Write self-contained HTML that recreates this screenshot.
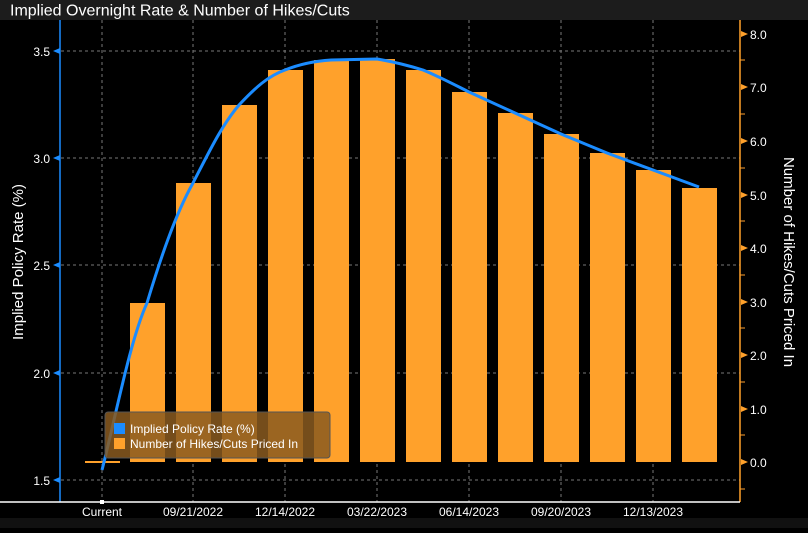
<!DOCTYPE html>
<html><head><meta charset="utf-8"><style>
body{margin:0;background:#000;width:808px;height:528px;overflow:hidden;font-family:"Liberation Sans",sans-serif}
</style></head><body>
<svg width="808" height="528" xmlns="http://www.w3.org/2000/svg" font-family="Liberation Sans, sans-serif">
<rect width="808" height="528" fill="#000"/>
<rect x="0" y="0" width="808" height="20" fill="#1c1c1c"/>
<text x="10" y="15.5" fill="#fff" font-size="16">Implied Overnight Rate &amp; Number of Hikes/Cuts</text>
<rect x="0" y="518" width="808" height="10" fill="#111"/>
<g stroke="#777" stroke-width="1" stroke-dasharray="3,3">
<line x1="61" x2="740" y1="51" y2="51"/><line x1="61" x2="740" y1="158" y2="158"/>
<line x1="61" x2="740" y1="265" y2="265"/><line x1="61" x2="740" y1="373" y2="373"/>
<line x1="61" x2="740" y1="480" y2="480"/>
<line x1="102" x2="102" y1="20" y2="502"/><line x1="193" x2="193" y1="20" y2="502"/>
<line x1="285" x2="285" y1="20" y2="502"/><line x1="377" x2="377" y1="20" y2="502"/>
<line x1="469" x2="469" y1="20" y2="502"/><line x1="561" x2="561" y1="20" y2="502"/>
<line x1="653" x2="653" y1="20" y2="502"/>
</g>
<g fill="#ffa12b">
<rect x="85" y="461" width="35" height="2"/>
<rect x="130" y="303" width="35" height="159"/>
<rect x="176" y="183" width="35" height="279"/>
<rect x="222" y="105" width="35" height="357"/>
<rect x="268" y="70" width="35" height="392"/>
<rect x="314" y="60" width="35" height="402"/>
<rect x="360" y="59" width="35" height="403"/>
<rect x="406" y="70" width="35" height="392"/>
<rect x="452" y="92" width="35" height="370"/>
<rect x="498" y="113" width="35" height="349"/>
<rect x="544" y="134" width="35" height="328"/>
<rect x="590" y="153" width="35" height="309"/>
<rect x="636" y="170" width="35" height="292"/>
<rect x="682" y="188" width="35" height="274"/>
</g>
<path d="M102,470 C115,420 130,340 147,303 C160,260 175,215 193,183 C210,150 222,125 239,105 C255,88 268,76 285,70 C300,64 315,61 331,60 L377,59 C395,62 410,66 423,70 C440,77 455,85 469,92 L515,113 L561,134 L607,153 L653,170 L699,187" fill="none" stroke="#1b8cff" stroke-width="3"/>
<rect x="105" y="412" width="225" height="46" rx="3" fill="#8a5a20" fill-opacity="0.85" stroke="#555"/>
<rect x="114" y="423" width="11" height="11" fill="#1b8cff"/>
<rect x="114" y="438" width="11" height="11" fill="#ffa12b"/>
<text x="130" y="433" fill="#fff" font-size="12">Implied Policy Rate (%)</text>
<text x="130" y="448" fill="#fff" font-size="12">Number of Hikes/Cuts Priced In</text>
<line x1="60" y1="20" x2="60" y2="502" stroke="#1b8cff" stroke-width="1.5"/>
<line x1="740" y1="20" x2="740" y2="502" stroke="#ffa12b" stroke-width="1.5"/>
<line x1="0" y1="502" x2="740" y2="502" stroke="#fff" stroke-width="1.5"/>
<g fill="#1b8cff"><path d="M53,51 l7,-3 v6z"/><path d="M53,158 l7,-3 v6z"/><path d="M53,265 l7,-3 v6z"/><path d="M53,373 l7,-3 v6z"/><path d="M53,480 l7,-3 v6z"/></g>
<g fill="#fff" font-size="12" text-anchor="end"><text x="50" y="56">3.5</text><text x="50" y="163">3.0</text><text x="50" y="270">2.5</text><text x="50" y="378">2.0</text><text x="50" y="485">1.5</text></g>
<g fill="#ffa12b">
<path d="M748,34 l-7,-3 v6z"/><path d="M748,87 l-7,-3 v6z"/><path d="M748,141 l-7,-3 v6z"/><path d="M748,195 l-7,-3 v6z"/><path d="M748,248 l-7,-3 v6z"/><path d="M748,302 l-7,-3 v6z"/><path d="M748,355 l-7,-3 v6z"/><path d="M748,409 l-7,-3 v6z"/><path d="M748,462 l-7,-3 v6z"/>
</g>
<g stroke="#ffa12b"><line x1="740" x2="745" y1="60" y2="60"/><line x1="740" x2="745" y1="114" y2="114"/><line x1="740" x2="745" y1="168" y2="168"/><line x1="740" x2="745" y1="221" y2="221"/><line x1="740" x2="745" y1="275" y2="275"/><line x1="740" x2="745" y1="328" y2="328"/><line x1="740" x2="745" y1="382" y2="382"/><line x1="740" x2="745" y1="435" y2="435"/><line x1="740" x2="745" y1="489" y2="489"/></g>
<g fill="#fff" font-size="12"><text x="750" y="39">8.0</text><text x="750" y="92">7.0</text><text x="750" y="146">6.0</text><text x="750" y="200">5.0</text><text x="750" y="253">4.0</text><text x="750" y="307">3.0</text><text x="750" y="360">2.0</text><text x="750" y="414">1.0</text><text x="750" y="467">0.0</text></g>
<text transform="translate(23,262) rotate(-90)" fill="#fff" font-size="15" text-anchor="middle">Implied Policy Rate (%)</text>
<text transform="translate(784,262) rotate(90)" fill="#fff" font-size="15" text-anchor="middle">Number of Hikes/Cuts Priced In</text>
<rect x="100" y="500" width="4" height="4" fill="#fff"/>
<g fill="#fff" font-size="12" text-anchor="middle"><text x="102" y="516">Current</text><text x="193" y="516">09/21/2022</text><text x="285" y="516">12/14/2022</text><text x="377" y="516">03/22/2023</text><text x="469" y="516">06/14/2023</text><text x="561" y="516">09/20/2023</text><text x="653" y="516">12/13/2023</text></g>
</svg>
</body></html>
